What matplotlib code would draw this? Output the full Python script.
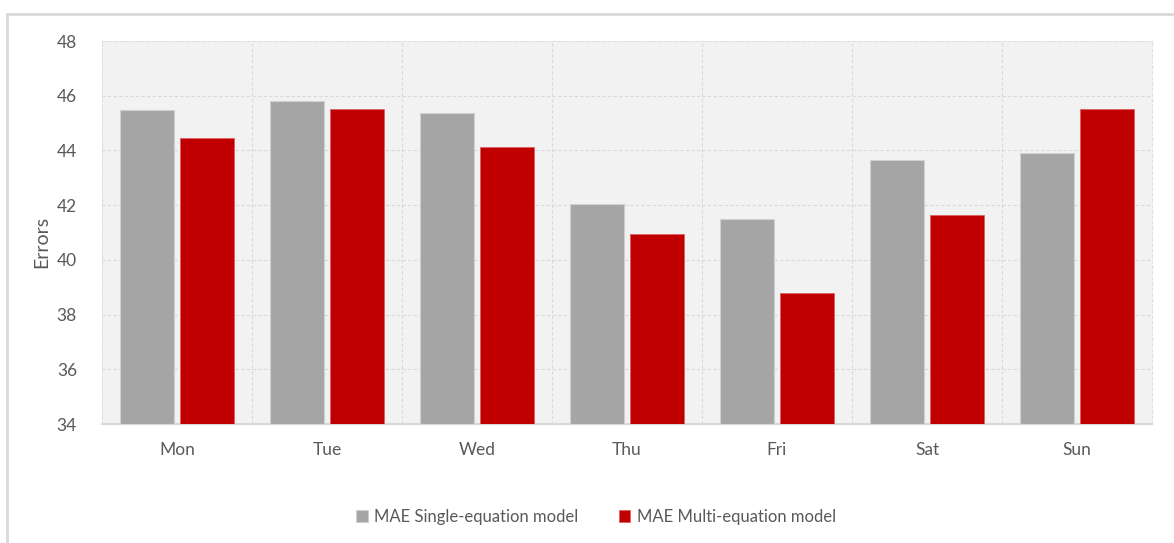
import matplotlib
matplotlib.use("Agg")
import matplotlib.pyplot as plt
import numpy as np
from matplotlib.patches import Rectangle

days = ["Mon", "Tue", "Wed", "Thu", "Fri", "Sat", "Sun"]
mae_single = [45.48, 45.81, 45.35, 42.04, 41.49, 43.66, 43.91]
mae_multi = [44.45, 45.53, 44.13, 40.93, 38.79, 41.64, 45.51]
series_labels = ["MAE Single-equation model", "MAE Multi-equation model"]
yticks = [34, 36, 38, 40, 42, 44, 46, 48]

plt.rcParams['font.family'] = ['Lato', 'DejaVu Sans']

W, H = 1174, 543
fig = plt.figure(figsize=(W / 100, H / 100), dpi=100)
fig.patch.set_facecolor("white")

# outer frame
fig.patches.append(Rectangle((7 / W, -0.1), 1.2, (H - 14) / H + 0.1, transform=fig.transFigure,
                             fill=False, edgecolor="#d9d9d9", linewidth=2, zorder=0))

ax = fig.add_axes([102 / W, 1 - 424 / H, (1152 - 102) / W, (424 - 41) / H])
ax.set_facecolor("#f2f2f2")

x = np.arange(len(days))
bw = 0.36
ax.bar(x - 0.197, np.array(mae_single) - 34, bottom=34, width=bw, color="#a5a5a5",
       edgecolor="#d0d0d0", linewidth=0.8, label=series_labels[0], zorder=3)
ax.bar(x + 0.197, np.array(mae_multi) - 34, bottom=34, width=bw, color="#c00000",
       edgecolor="#e06060", linewidth=0.6, label=series_labels[1], zorder=3)

ax.set_xlim(-0.5, len(days) - 0.5)
ax.set_ylim(34, 48)
ax.set_yticks(yticks)
ax.set_yticklabels([str(t) for t in yticks])
ax.set_xticks(x)
ax.set_xticklabels(days)

# grid
for t in yticks[1:]:
    ax.axhline(t, color="#d9d9d9", linestyle=(0, (3, 2)), linewidth=0.8, zorder=1)
for b in np.arange(0.5, len(days) - 0.5, 1.0):
    ax.axvline(b, color="#d9d9d9", linestyle=(0, (3, 2)), linewidth=0.8, zorder=1)

for s in ["top", "right", "left"]:
    ax.spines[s].set_color("#e0e0e0")
    ax.spines[s].set_linestyle((0, (3, 2)))
    ax.spines[s].set_linewidth(0.8)
ax.spines["bottom"].set_color("#d9d9d9")
ax.spines["bottom"].set_linewidth(1.5)

ax.tick_params(axis="both", length=0, colors="#595959", labelsize=12.5)
ax.tick_params(axis="y", pad=18)
ax.tick_params(axis="x", pad=13)

ax.set_ylabel("Errors", fontsize=14, color="#595959")
ax.yaxis.set_label_coords(-52 / (1152 - 102), 0.475)

leg = fig.legend(loc="center", bbox_to_anchor=(596 / W, 1 - 517 / H), ncol=2, frameon=False,
                 fontsize=12, handlelength=0.7, handleheight=0.7, handletextpad=0.4,
                 columnspacing=2.4, labelcolor="#595959")

fig.savefig("out.png", dpi=100)
